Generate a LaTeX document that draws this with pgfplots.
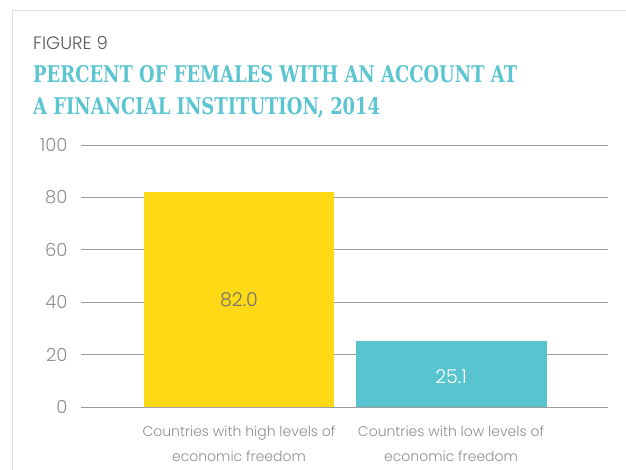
\documentclass[border=0pt]{standalone}
\usepackage{pgfplots}
\pgfplotsset{compat=1.18}
\usepackage{fontspec}
\setmainfont{Poppins}[UprightFont=* Light, BoldFont=* SemiBold]
\newfontfamily\titlefont{DejaVu Serif}[FakeStretch=0.78]
\definecolor{ttl}{HTML}{5BC5D1}
\definecolor{ybar}{HTML}{FDD916}
\definecolor{tbar}{HTML}{58C4D0}
\definecolor{txt}{HTML}{8E8E8E}
\definecolor{grd}{HTML}{9E9E9E}
\begin{document}
\begin{tikzpicture}[x=1pt,y=1pt]
\path[use as bounding box] (0,0) rectangle (626,-470);
\draw[black!13, line width=1pt] (12,-470) -- (12,-11) -- (626,-11);
\node[anchor=base west, inner sep=0, text=black!65, font=\fontsize{18}{22}\selectfont] at (33,-50) {FIGURE 9};
\node[anchor=base west, inner sep=0, text=ttl, font=\titlefont\bfseries\fontsize{23}{26}\selectfont] at (33,-83) {PERCENT OF FEMALES WITH AN ACCOUNT AT};
\node[anchor=base west, inner sep=0, text=ttl, font=\titlefont\bfseries\fontsize{23}{26}\selectfont] at (33,-115) {A FINANCIAL INSTITUTION, 2014};
\begin{axis}[
  at={(81pt,-407pt)}, anchor=south west,
  scale only axis, width=527pt, height=262pt,
  xmin=-0.745, xmax=1.74, ymin=0, ymax=100,
  axis line style={draw=none},
  ytick={0,20,...,100},
  ymajorgrids, major grid style={grd, line width=0.9pt},
  major tick length=0pt,
  /pgf/number format/assume math mode=true,
  yticklabel style={text=txt, font=\fontsize{18}{22}\selectfont, xshift=-10pt},
  xtick={0,1},
  xticklabels={Countries with high levels of\\economic freedom, Countries with low levels of\\economic freedom},
  xticklabel style={text=txt, font=\fontsize{14}{25}\selectfont, align=center, yshift=-15pt},
  ybar, bar width=0.9, bar shift=0pt,
  clip=false,
]
\addplot[draw=none, fill=ybar] coordinates {(0,82.0)};
\addplot[draw=none, fill=tbar] coordinates {(1,25.1)};
\node[text=black!55, font=\fontsize{19}{22}\selectfont] at (axis cs:0,41) {82.0};
\node[text=white, font=\fontsize{19}{22}\selectfont] at (axis cs:1,11.5) {25.1};
\end{axis}
\end{tikzpicture}
\end{document}
